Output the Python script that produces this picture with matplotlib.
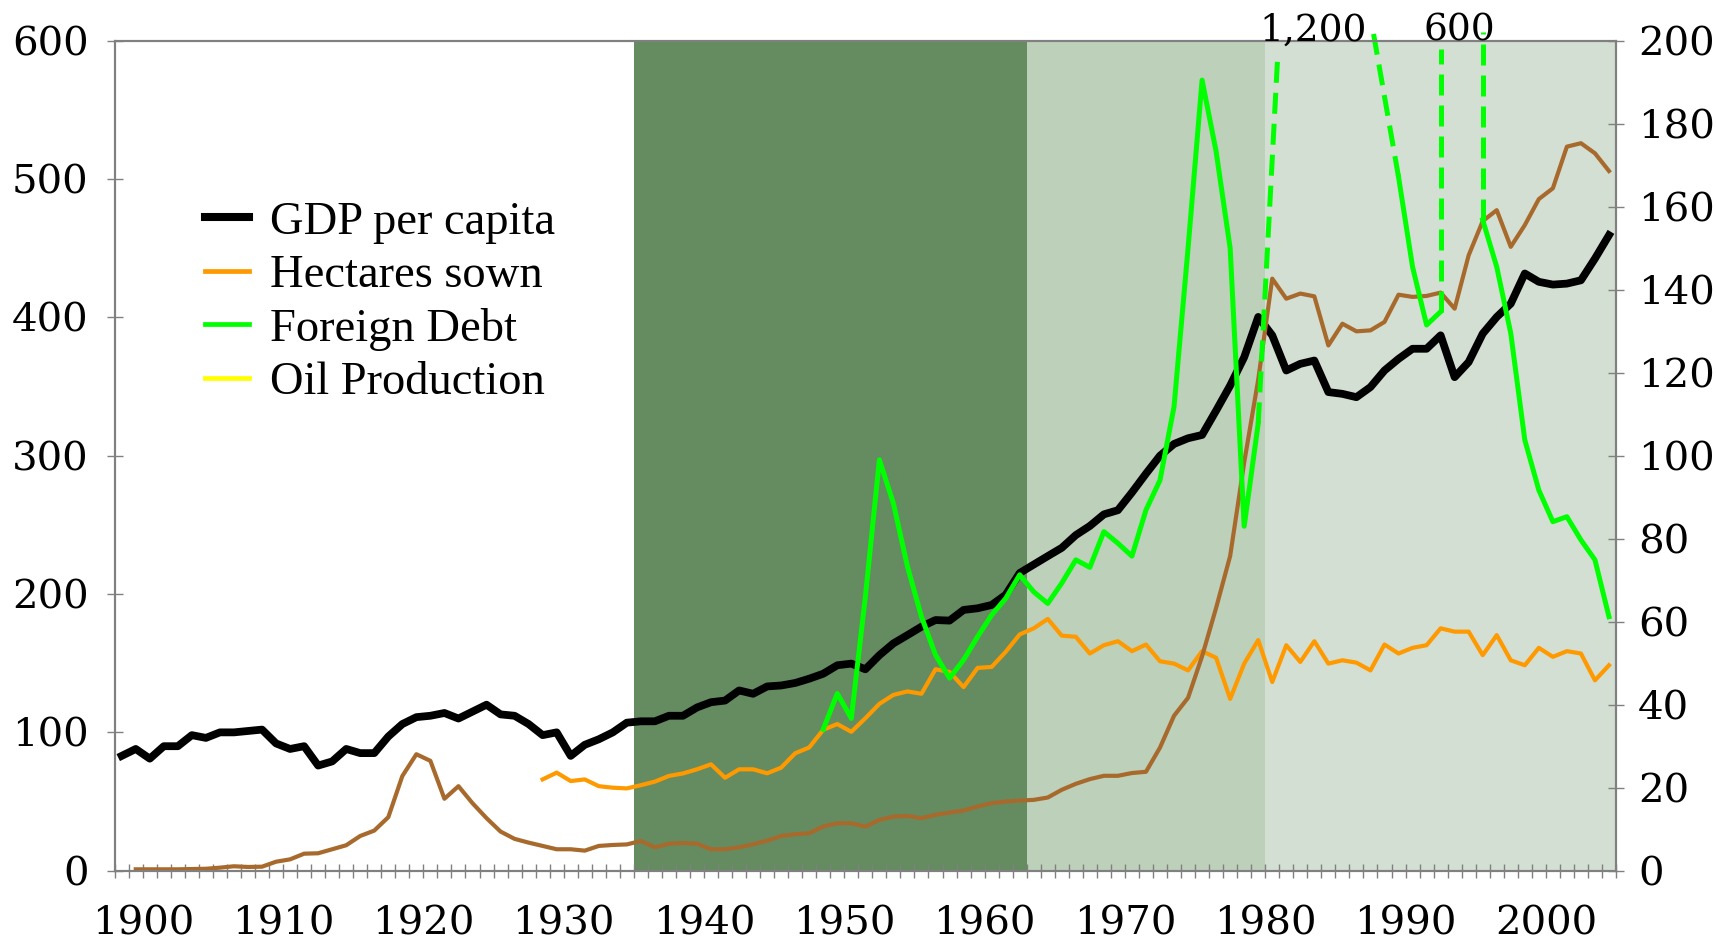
import matplotlib
matplotlib.use("Agg")
import matplotlib.pyplot as plt
from matplotlib.lines import Line2D
from matplotlib.font_manager import FontProperties
import numpy as np

nan = np.nan

# one category per year, 1900 .. 2006
years = np.arange(1900, 2007)

# GDP per capita (left axis)
gdp_per_capita = [
    83, 88, 81, 90, 90, 98, 96, 100, 100, 101,
    102, 92, 88, 90, 76, 79, 88, 85, 85, 97,
    106, 111, 112, 114, 110, 115, 120, 113, 112, 106,
    98, 100, 83, 91, 95, 100, 107, 108, 108, 112,
    112, 118, 121.8, 123, 130.3, 127.9, 133.2, 133.9, 135.7, 138.8,
    142.4, 148.5, 149.7, 145.6, 155.8, 164.3, 170.3, 176.4, 181.2, 180.8,
    188.5, 189.7, 192.1, 199.4, 215.2, 221.3, 227.4, 233.4, 242.6, 249.2,
    257.6, 260.6, 273.4, 287, 300, 308.5, 312.6, 315, 332.6, 350.7,
    371.2, 400.3, 387, 361.6, 366.4, 368.8, 346, 344.7, 342.3, 349.6,
    361.6, 370, 377.3, 377.3, 387, 356.8, 367.7, 388.2, 400.3, 409.9,
    431.7, 425.7, 423.7, 424.4, 426.8, 442.5, 459.4,
]

# Oil production (left axis), starts 1901
oil_production = [nan] + [
    1, 1, 1, 1, 1.2, 1.4, 2.2, 3.2, 2.7, 2.9,
    6.5, 8.2, 12.3, 12.6, 15.5, 18.4, 25.1, 29, 38.7, 68.4,
    84.2, 79.4, 52, 61.1, 48.8, 38, 28.3, 23, 20.3, 17.9,
    15.5, 15.5, 14.5, 17.9, 18.6, 19, 21.5, 16.9, 19.5, 20,
    19.5, 15.5, 15.5, 16.9, 19.1, 21.7, 25.1, 26.4, 27.1, 32,
    34.3, 34.3, 31.9, 36.7, 39.1, 39.6, 38, 40.4, 42, 43.5,
    46.4, 48.8, 50, 50.7, 51.2, 52.9, 58.5, 62.8, 66.2, 68.6,
    68.6, 70.6, 71.5, 89, 112, 125, 155, 190, 227.5, 295,
    355, 428, 413.5, 417.2, 415.2, 379.7, 395.4, 389.9, 390.6, 396.7,
    416.4, 414.8, 415.5, 417.9, 406.3, 444.9, 469.6, 477.5, 451, 466.7,
    485.5, 493.3, 523.4, 525.9, 518.6, 505.8,
]

# Hectares sown (left axis), starts 1930
hectares_sown = [nan] * 30 + [
    66.0, 70.9, 64.8, 66.0, 61.1, 60.0, 59.5, 61.8, 64.4, 68.5,
    70.3, 73.3, 76.9, 67.2, 73.3, 73.3, 70.4, 74.5, 84.9, 89.1,
    101.9, 106.0, 100.4, 110.2, 120.6, 127.1, 129.6, 127.9, 145.6, 143.7,
    132.7, 146.6, 147.3, 158.2, 170.8, 175.2, 182.0, 169.9, 169.1, 157.0,
    163.0, 165.9, 158.7, 163.5, 151.4, 149.7, 144.8, 158.7, 153.9, 124.2,
    149.7, 166.7, 136.4, 163.0, 150.9, 165.9, 149.7, 152.1, 150.4, 144.8,
    163.5, 157.0, 161.1, 163.0, 175.2, 172.8, 172.8, 155.8, 170.3, 152.1,
    148.5, 161.1, 154.6, 158.7, 157.0, 137.6, 148.5,
]

# Foreign debt (right axis), starts 1950; off-scale years left empty
foreign_debt = [nan] * 50 + [
    34.1, 42.7, 36.7, 66, 99, 88.5, 73.3, 61.2, 52, 46.4,
    50.8, 56.4, 61.6, 65.6, 71.3, 67.2, 64.4, 69.3, 74.9, 73.1,
    81.7, 78.9, 75.8, 86.9, 94.1, 111.8, 150, 190.5, 173.3, 150,
    83, 107.8, nan, nan, nan, nan, nan, nan, nan, nan,
    nan, 167.2, 145.5, 131.5, 134.7, nan, nan, 156.8, 145.5, 129.5,
    103.8, 91.7, 84.1, 85.3, 79.7, 74.9, 61.2,
]

# dashed breaks where the debt leaves the scale
break_years = [1981, 1991, 1994, 1997]
break_top_x = [1982.4, 1989.2, 1994, 1997]
break_top_y = [197, 202, 198, 202]
peak_labels = ["1,200", "600"]
peak_label_x = [1984.9, 1995.3]

# shaded periods
period_first = [1937, 1965, 1982]
period_last = [1964, 1981, 2006]
period_colors = ["#648c60", "#bdd0b9", "#d3dfd3"]

label_years = np.arange(1900, 2001, 10)

W, H = 1717, 940
fig = plt.figure(figsize=(W / 100, H / 100), dpi=100)
ax = fig.add_axes([114.7 / W, 69.3 / H, 1501.3 / W, 830 / H])
ax2 = ax.twinx()

for a, b, c in zip(period_first, period_last, period_colors):
    ax.axvspan(a - 0.5, b + 0.5, color=c, lw=0, zorder=0)

ax.plot(years, gdp_per_capita, color="black", lw=5.6, solid_joinstyle="round", zorder=3)
ax.plot(years, hectares_sown, color="#ff9900", lw=3.0, zorder=3)
ax.plot(years, oil_production, color="#a86a2c", lw=3.0, zorder=3)
ax2.plot(years, foreign_debt, color="#00ff00", lw=3.6)

debt_by_year = dict(zip(years, foreign_debt))
for yr, xt, yt in zip(break_years, break_top_x, break_top_y):
    ax2.plot([yr, xt], [debt_by_year[yr], yt], color="#00ff00", lw=3.6,
             ls=(0, (4.2, 2.0)), clip_on=False)

for txt, xl in zip(peak_labels, peak_label_x):
    ax2.text(xl, 200, txt, ha="center", va="baseline", fontsize=27,
             family="DejaVu Serif", clip_on=False)

ax.set_xlim(1899.5, 2006.5)
ax.set_ylim(0, 600)
ax2.set_ylim(0, 200)

ax.set_yticks(range(0, 601, 100))
ax2.set_yticks(range(0, 201, 20))
ax.set_xticks(label_years + 1.5)
ax.set_xticklabels([str(y) for y in label_years])
ax.set_xticks(np.arange(1899.5, 2006.6, 1), minor=True)

gray = "#808080"
for a in (ax, ax2):
    for s in a.spines.values():
        s.set_color(gray)
        s.set_linewidth(1.5)

ax.tick_params(axis="x", which="both", direction="inout", length=10, width=1,
               color=gray, pad=20, labelsize=29)
ax.tick_params(axis="y", direction="inout", length=11.5, width=1,
               color=gray, pad=13, labelsize=29)
ax2.tick_params(axis="y", direction="inout", length=11.5, width=1,
                color=gray, pad=10, labelsize=29)
for lab in ax.get_xticklabels() + ax.get_yticklabels() + ax2.get_yticklabels():
    lab.set_family("DejaVu Serif")

handles = [
    Line2D([], [], color="black", lw=5.8),
    Line2D([], [], color="#ff9900", lw=3.4),
    Line2D([], [], color="#00ff00", lw=3.4),
    Line2D([], [], color="#ffff00", lw=3.4),
]
labels = ["GDP per capita", "Hectares sown", "Foreign Debt", "Oil Production"]
fig.legend(handles, labels, loc="upper left", bbox_to_anchor=(204.5 / W, 0.786),
           frameon=False, borderpad=0, borderaxespad=0, handlelength=0.95,
           handletextpad=0.46, labelspacing=0.23,
           prop=FontProperties(family="Liberation Serif", size=33.5))

fig.savefig("out.png", dpi=100)
